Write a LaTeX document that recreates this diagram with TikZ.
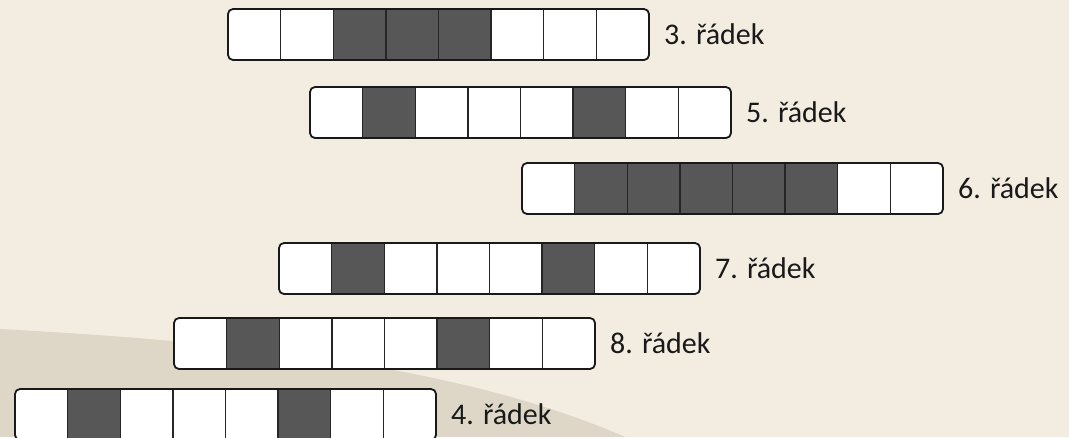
\documentclass[tikz,border=0pt]{standalone}
\usepackage{fontspec}
\setmainfont{Carlito}
\usetikzlibrary{positioning}
\definecolor{pozadi}{HTML}{F3ECE1}
\definecolor{pozaditmave}{HTML}{DED7C7}
\definecolor{plnabarva}{HTML}{575757}
\newcommand{\radek}[5]{%
  \node[ramecek] (#1) at ({#2+210.5},{#3+25.5}) {};
  \foreach \s [count=\i] in {#5}
    \node[bunka,\s] (#1c\i) at ({#2+(\i-0.5)*52.625},{#3+25.5}) {};
  \foreach \i in {1,...,7}
    \draw[predel] (#1c\i.north east) -- (#1c\i.south east);
  \draw[obrys] (#1.north west) rectangle (#1.south east);
  \node[popisek,right=15pt of #1] (#1p) {#4};
}

\begin{document}
\begin{tikzpicture}[x=1pt,y=-1pt,
  ramecek/.style={rectangle,minimum width=421pt,minimum height=51pt,inner sep=0pt,outer sep=0pt,fill=white,rounded corners=5pt},
  bunka/.style={rectangle,minimum width=52.625pt,minimum height=51pt,inner sep=0pt,outer sep=0pt},
  bila/.style={},
  cerna/.style={fill=plnabarva},
  predel/.style={line width=1.3pt,black!85},
  obrys/.style={line width=1.8pt,black!90,rounded corners=5pt},
  popisek/.style={inner sep=0pt,font=\fontsize{30}{36}\selectfont,text=black!90}]
  \useasboundingbox (0,0) rectangle (1069,437);
  \fill[pozadi] (0,0) rectangle (1069,437);
  \fill[pozaditmave] (0,329) .. controls (200,340) and (450,360) .. (625,437) -- (0,437) -- cycle;
  \radek{r3}{228}{9}{3. řádek}{bila,bila,cerna,cerna,cerna,bila,bila,bila}
  \radek{r5}{310}{87}{5. řádek}{bila,cerna,bila,bila,bila,cerna,bila,bila}
  \radek{r6}{522}{163}{6. řádek}{bila,cerna,cerna,cerna,cerna,cerna,bila,bila}
  \radek{r7}{279}{243}{7. řádek}{bila,cerna,bila,bila,bila,cerna,bila,bila}
  \radek{r8}{174}{318}{8. řádek}{bila,cerna,bila,bila,bila,cerna,bila,bila}
  \radek{r4}{15}{389}{4. řádek}{bila,cerna,bila,bila,bila,cerna,bila,bila}
\end{tikzpicture}
\end{document}
